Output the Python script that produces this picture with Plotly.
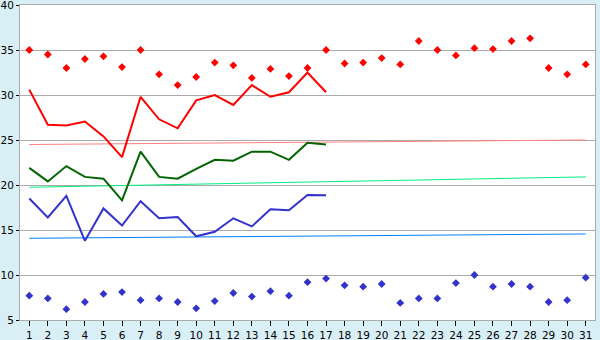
import plotly.graph_objects as go

days = list(range(1, 32))
day_labels = [str(d) for d in days]

red_points = [35.0, 34.5, 33.0, 34.0, 34.3, 33.1, 35.0, 32.3, 31.1, 32.0,
              33.6, 33.3, 31.9, 32.9, 32.1, 33.0, 35.0, 33.5, 33.6, 34.1,
              33.4, 36.0, 35.0, 34.4, 35.2, 35.1, 36.0, 36.3, 33.0, 32.3, 33.4]
blue_points = [7.7, 7.4, 6.2, 7.0, 7.9, 8.1, 7.2, 7.4, 7.0, 6.3,
               7.1, 8.0, 7.6, 8.2, 7.7, 9.2, 9.6, 8.85, 8.7, 9.0,
               6.9, 7.4, 7.4, 9.1, 10.0, 8.7, 9.0, 8.7, 7.0, 7.2, 9.7]

line_days = list(range(1, 18))
red_line = [30.6, 26.7, 26.6, 27.05, 25.4, 23.1, 29.8, 27.3, 26.3, 29.4,
            30.0, 28.9, 31.1, 29.8, 30.3, 32.5, 30.3]
green_line = [21.9, 20.4, 22.1, 20.9, 20.7, 18.3, 23.7, 20.9, 20.7, 21.8,
              22.8, 22.7, 23.7, 23.7, 22.8, 24.7, 24.5]
blue_line = [18.5, 16.4, 18.8, 13.8, 17.4, 15.5, 18.2, 16.3, 16.45, 14.3,
             14.8, 16.3, 15.4, 17.3, 17.2, 18.9, 18.85]

trend_days = [1, 31]
red_trend = [24.5, 25.0]
green_trend = [19.75, 20.9]
blue_trend = [14.08, 14.56]

fig = go.Figure()

fig.add_trace(go.Scatter(x=trend_days, y=red_trend, mode="lines",
                         line=dict(color="#ff8080", width=1)))
fig.add_trace(go.Scatter(x=trend_days, y=green_trend, mode="lines",
                         line=dict(color="#00f080", width=1)))
fig.add_trace(go.Scatter(x=trend_days, y=blue_trend, mode="lines",
                         line=dict(color="#0080ff", width=1)))

fig.add_trace(go.Scatter(x=line_days, y=red_line, mode="lines",
                         line=dict(color="#ff0000", width=2)))
fig.add_trace(go.Scatter(x=line_days, y=green_line, mode="lines",
                         line=dict(color="#006400", width=2)))
fig.add_trace(go.Scatter(x=line_days, y=blue_line, mode="lines",
                         line=dict(color="#3333cc", width=2)))

fig.add_trace(go.Scatter(x=days, y=red_points, mode="markers",
                         marker=dict(symbol="diamond", size=6, color="#ff0000")))
fig.add_trace(go.Scatter(x=days, y=blue_points, mode="markers",
                         marker=dict(symbol="diamond", size=6, color="#3333cc")))

fig.update_layout(
    width=600, height=340,
    margin=dict(l=20, r=5, t=5, b=20, autoexpand=False),
    paper_bgcolor="#d9eff6",
    plot_bgcolor="#ffffff",
    showlegend=False,
    font=dict(family="DejaVu Sans", size=10.5, color="#000000"),
)
fig.update_xaxes(
    range=[0.5, 31.5], tickmode="array", tickvals=days, ticktext=day_labels,
    showgrid=False, zeroline=False, automargin=False,
    showline=True, linecolor="#aaaaaa", linewidth=1, mirror=True,
    ticks="outside", ticklen=5, tickcolor="#000000",
    ticklabeloverflow="allow",
)
fig.update_yaxes(
    range=[5, 40], tickmode="linear", tick0=5, dtick=5,
    showgrid=True, gridcolor="#aaaaaa", gridwidth=1, zeroline=False,
    automargin=False,
    showline=True, linecolor="#aaaaaa", linewidth=1, mirror=True,
    ticks="outside", ticklen=3, tickcolor="#000000",
    ticklabeloverflow="allow",
)

fig.write_html("out.html")
